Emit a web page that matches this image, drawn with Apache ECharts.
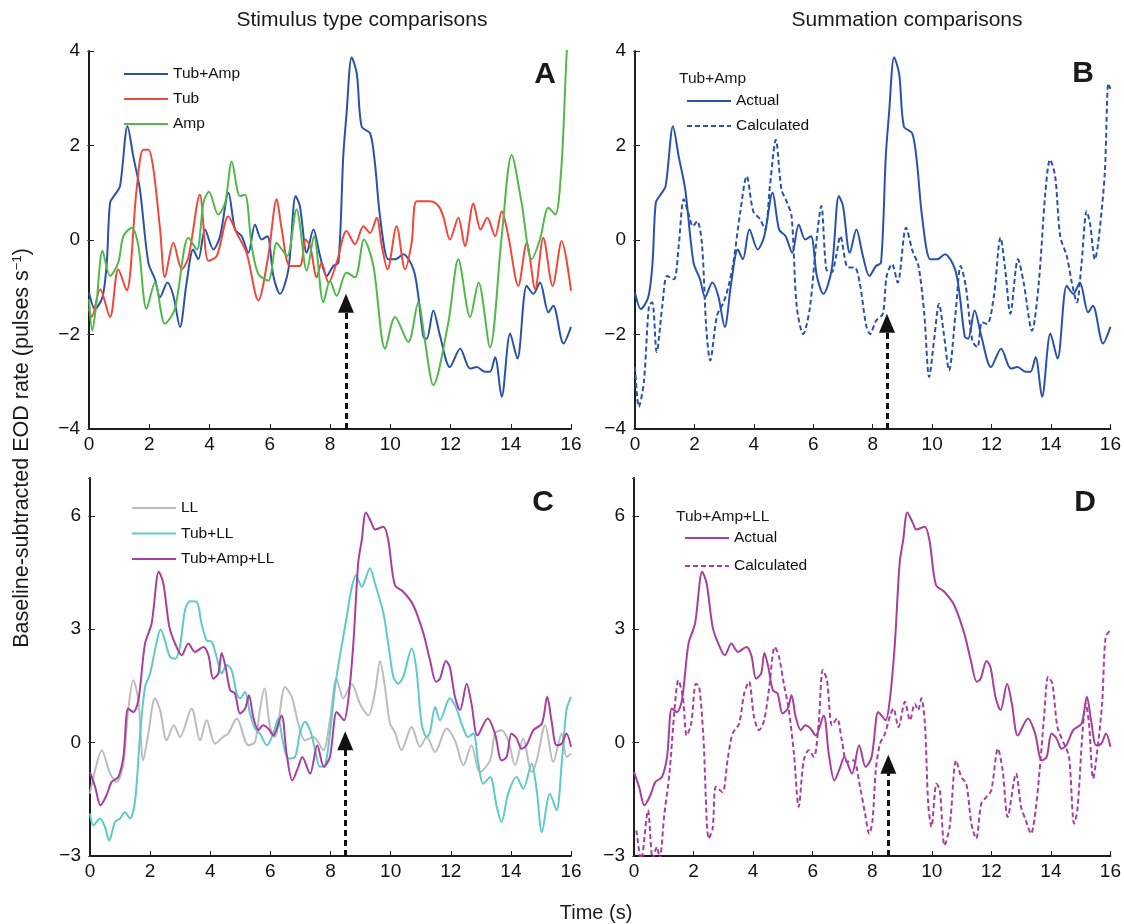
<!DOCTYPE html>
<html>
<head>
<meta charset="utf-8">
<script src="https://cdn.jsdelivr.net/npm/echarts@6/dist/echarts.min.js"></script>
<style>
  html, body { margin: 0; padding: 0; background: #fff; }
  #chart { width: 1124px; height: 924px; }
</style>
</head>
<body>
<div id="chart"></div>
<script>
// time (s), rate (pulses/s) at peaks and troughs
const tubAmp = [[0,-1.11],[0.2,-1.46],[0.45,-1.2],[0.59,-0.48],[0.7,0.79],[0.86,0.96],[1.03,1.14],[1.28,2.41],[1.47,1.77],[1.69,1.07],[1.97,-0.48],[2.19,-0.83],[2.36,-1.21],[2.6,-0.9],[2.8,-1.18],[3.02,-1.84],[3.24,-0.9],[3.46,-0.2],[3.63,-0.41],[3.85,0.22],[4.13,-0.2],[4.35,0.08],[4.63,1.0],[4.85,0.22],[5.07,0.08],[5.29,-0.27],[5.51,0.33],[5.73,0.01],[5.92,0.08],[6.12,-0.76],[6.34,-1.14],[6.62,-0.62],[6.86,0.93],[7.0,0.72],[7.23,-0.27],[7.45,0.22],[7.67,-0.34],[7.89,-0.76],[8.11,-0.55],[8.28,-0.48],[8.44,1.77],[8.55,2.68],[8.72,3.87],[8.89,3.52],[9.05,2.4],[9.33,2.26],[9.49,1.63],[9.66,0.5],[9.94,-0.41],[10.16,-0.41],[10.43,-0.3],[10.77,-0.62],[10.93,-1.18],[11.1,-2.05],[11.21,-2.09],[11.43,-1.49],[11.65,-2.02],[11.98,-2.69],[12.32,-2.3],[12.65,-2.72],[12.87,-2.69],[13.15,-2.79],[13.31,-2.79],[13.48,-2.48],[13.7,-3.32],[13.98,-1.98],[14.22,-2.51],[14.53,-0.97],[14.75,-1.14],[14.97,-0.9],[15.25,-1.53],[15.41,-1.39],[15.75,-2.19],[16,-1.84]];
const tub = [[0,-1.46],[0.09,-1.63],[0.37,-1.04],[0.7,-1.63],[0.97,-0.62],[1.25,-1.07],[1.58,1.07],[1.8,1.91],[1.97,1.91],[2.14,1.49],[2.36,0.22],[2.52,-0.79],[2.8,-0.06],[3.08,-0.62],[3.3,-0.37],[3.68,0.96],[3.96,-0.44],[4.24,-0.34],[4.63,0.5],[4.9,0.15],[5.23,-0.27],[5.62,-1.28],[5.95,-0.34],[6.23,0.86],[6.4,0.22],[6.67,-0.55],[7.0,-0.55],[7.19,0.01],[7.34,-0.13],[7.56,-0.79],[7.72,-0.48],[7.95,-0.9],[8.22,-0.48],[8.55,0.19],[8.83,-0.09],[9.11,0.29],[9.33,0.15],[9.55,0.47],[9.72,-0.13],[9.91,-0.62],[10.21,0.29],[10.49,-0.62],[10.71,-0.06],[10.88,0.82],[11.32,0.82],[11.6,0.72],[11.76,0.5],[11.98,0.01],[12.26,0.47],[12.48,-0.13],[12.76,0.77],[13.0,0.22],[13.22,0.47],[13.48,0.08],[13.7,0.61],[13.92,0.08],[14.25,-0.97],[14.53,-0.06],[14.81,-1.04],[15.08,0.05],[15.39,-0.97],[15.69,-0.02],[16,-1.07]];
const amp = [[0,-1.25],[0.11,-1.92],[0.25,-1.32],[0.45,-0.23],[0.7,-0.76],[0.97,-0.48],[1.14,0.08],[1.42,0.26],[1.64,-0.13],[1.91,-1.46],[2.19,-0.9],[2.52,-1.77],[2.85,-1.46],[3.3,0.05],[3.58,-0.2],[3.8,0.79],[3.98,1.02],[4.29,0.54],[4.52,0.79],[4.74,1.66],[5.01,0.93],[5.18,0.96],[5.4,-0.13],[5.62,-0.72],[5.95,-0.86],[6.23,-0.06],[6.4,-0.2],[6.58,-0.34],[6.89,0.65],[7.23,-0.65],[7.47,0.08],[7.78,-1.32],[8.0,-0.86],[8.22,-1.18],[8.55,-0.69],[8.83,-0.79],[9.13,0.01],[9.44,-0.55],[9.83,-2.3],[10.16,-1.63],[10.6,-2.16],[10.93,-1.32],[11.15,-2.13],[11.43,-3.07],[11.93,-1.74],[12.26,-0.41],[12.65,-1.63],[12.93,-0.9],[13.31,-2.27],[13.7,0.08],[14.03,1.8],[14.36,0.79],[14.69,-0.41],[14.97,0.01],[15.25,0.68],[15.48,0.54],[15.69,1.63],[15.86,3.98],[15.95,4.4]];
const tubAmpCalc = [[0,-2.69],[0.13,-3.53],[0.3,-3.0],[0.47,-1.39],[0.58,-1.32],[0.73,-2.37],[0.92,-1.39],[1.08,-0.76],[1.31,-0.83],[1.47,-0.13],[1.64,0.86],[1.81,0.54],[1.95,0.29],[2.09,0.4],[2.25,-0.06],[2.4,-1.88],[2.53,-2.55],[2.76,-1.6],[2.98,-1.32],[3.15,-0.97],[3.31,-0.48],[3.54,0.58],[3.76,1.35],[3.98,0.61],[4.21,0.44],[4.38,0.22],[4.54,1.14],[4.74,2.12],[4.93,1.07],[5.1,0.82],[5.27,0.5],[5.44,-1.39],[5.66,-1.99],[5.88,-1.46],[6.1,-0.06],[6.27,0.72],[6.44,-0.62],[6.61,-0.69],[6.77,-0.34],[6.91,0.08],[7.17,-0.58],[7.39,-0.58],[7.56,-0.9],[7.78,-1.81],[7.91,-1.99],[8.11,-1.71],[8.34,-1.56],[8.47,-0.76],[8.65,-0.51],[8.84,-0.9],[9.12,0.26],[9.34,-0.23],[9.54,-0.55],[9.73,-1.53],[9.9,-2.9],[10.07,-2.09],[10.23,-1.35],[10.4,-2.02],[10.57,-2.76],[10.79,-1.53],[10.96,-0.55],[11.13,-0.97],[11.35,-2.13],[11.52,-2.27],[11.68,-1.74],[11.85,-1.78],[12.08,-1.18],[12.3,0.05],[12.47,-0.69],[12.63,-1.56],[12.89,-0.41],[13.08,-0.9],[13.36,-1.92],[13.58,-0.97],[13.81,1.0],[13.97,1.7],[14.14,1.35],[14.31,0.08],[14.53,-0.34],[14.7,-0.9],[14.87,-1.32],[15.03,-0.48],[15.2,0.61],[15.31,0.36],[15.48,-0.41],[15.59,-0.06],[15.81,1.42],[15.93,3.31],[16,3.2]];
const ll = [[0,-1.35],[0.17,-0.73],[0.39,-0.2],[0.67,-0.82],[0.89,-1.04],[1.11,-0.56],[1.27,0.86],[1.44,1.65],[1.61,1.12],[1.77,-0.47],[1.94,0.24],[2.16,1.17],[2.33,0.86],[2.55,0.06],[2.79,0.46],[2.99,0.15],[3.38,0.9],[3.66,0.06],[3.88,0.59],[4.16,-0.03],[4.43,0.15],[4.6,0.24],[4.88,0.64],[5.27,-0.07],[5.49,0.02],[5.65,0.86],[5.8,1.43],[5.99,0.41],[6.15,0.15],[6.49,1.47],[6.71,1.21],[6.93,0.5],[7.15,0.06],[7.43,0.15],[7.76,-0.2],[7.98,0.59],[8.2,1.69],[8.43,1.17],[8.7,1.56],[8.98,1.03],[9.26,0.72],[9.48,1.34],[9.65,2.16],[9.81,1.47],[9.98,0.5],[10.14,0.28],[10.36,-0.2],[10.7,0.41],[10.98,-0.11],[11.2,0.15],[11.48,-0.25],[11.86,0.37],[12.14,0.06],[12.42,-0.6],[12.69,-0.07],[12.97,-0.78],[13.31,-0.47],[13.47,0.24],[13.69,0.33],[13.91,0.06],[14.14,-0.6],[14.41,0.11],[14.69,-0.78],[14.86,-0.47],[15.14,0.46],[15.41,-0.51],[15.69,0.24],[15.85,-0.38],[16,-0.29]];
const tubLL = [[0,-1.88],[0.11,-2.19],[0.33,-2.01],[0.5,-2.24],[0.64,-2.59],[0.83,-2.1],[1.0,-2.01],[1.16,-1.84],[1.33,-2.01],[1.5,-1.53],[1.66,0.15],[1.83,1.47],[2.0,1.83],[2.16,2.44],[2.35,2.99],[2.49,2.71],[2.66,2.27],[2.83,2.22],[2.99,2.53],[3.16,3.5],[3.33,3.74],[3.55,3.72],[3.71,3.15],[3.88,2.71],[4.05,2.67],[4.21,2.27],[4.38,1.83],[4.55,2.05],[4.71,1.92],[4.88,1.3],[4.99,1.17],[5.16,1.34],[5.32,0.77],[5.49,0.37],[5.65,0.24],[5.88,-0.07],[6.1,0.24],[6.26,0.64],[6.43,-0.03],[6.6,-0.42],[6.82,-0.38],[6.98,0.24],[7.15,0.55],[7.32,0.33],[7.48,-0.16],[7.65,-0.64],[7.82,-0.6],[7.98,0.24],[8.15,1.47],[8.31,2.27],[8.54,3.33],[8.7,4.08],[8.85,4.43],[9.04,4.12],[9.15,4.3],[9.31,4.61],[9.48,4.21],[9.76,3.42],[9.92,2.62],[10.09,1.74],[10.25,1.56],[10.42,1.74],[10.7,2.49],[10.86,1.92],[11.03,0.5],[11.2,0.15],[11.31,0.28],[11.48,0.94],[11.64,0.59],[11.97,1.17],[12.19,0.9],[12.36,0.5],[12.58,0.15],[12.75,0.24],[12.92,-0.56],[13.08,-1.09],[13.31,-0.91],[13.53,-1.7],[13.69,-2.1],[13.91,-1.35],[14.19,-0.91],[14.41,-1.22],[14.69,-0.56],[14.86,-1.27],[15.03,-2.37],[15.3,-1.35],[15.52,-1.79],[15.69,-0.56],[15.85,0.86],[16,1.21]];
const tubAmpLL = [[0,-0.78],[0.17,-1.17],[0.35,-1.66],[0.55,-1.39],[0.72,-1.04],[0.94,-0.91],[1.11,-0.38],[1.27,0.9],[1.44,0.81],[1.61,1.12],[1.83,2.62],[2.05,3.15],[2.29,4.52],[2.44,4.21],[2.64,3.06],[2.83,2.62],[3.05,2.31],[3.27,2.62],[3.49,2.4],[3.77,2.53],[3.94,2.31],[4.1,1.69],[4.27,1.83],[4.38,2.37],[4.51,2.0],[4.66,1.39],[4.82,1.3],[4.99,0.77],[5.16,0.9],[5.29,1.25],[5.43,0.68],[5.6,0.33],[5.76,0.46],[5.93,0.37],[6.1,0.19],[6.37,0.72],[6.54,-0.29],[6.73,-1.0],[6.93,-0.64],[7.06,-0.38],[7.32,-0.82],[7.56,-0.07],[7.78,-0.64],[7.98,-0.38],[8.2,0.81],[8.31,0.72],[8.45,0.59],[8.59,1.12],[8.76,2.62],[8.92,4.74],[9.04,5.36],[9.18,6.09],[9.37,5.8],[9.48,5.64],[9.76,5.71],[9.92,5.36],[10.14,4.17],[10.42,3.99],[10.75,3.64],[11.09,2.89],[11.31,2.18],[11.51,1.61],[11.64,1.69],[11.84,2.16],[11.97,2.0],[12.14,1.21],[12.31,0.86],[12.53,1.56],[12.69,1.03],[12.89,0.19],[13.23,0.64],[13.47,0.24],[13.69,-0.47],[13.86,-0.38],[14.02,0.24],[14.19,0.11],[14.36,-0.16],[14.52,-0.07],[14.75,0.33],[15.03,0.5],[15.21,1.21],[15.35,0.59],[15.52,-0.07],[15.69,-0.03],[15.85,0.24],[16,-0.11]];
const tubAmpLLCalc = [[0.08,-2.32],[0.24,-3.1],[0.47,-1.79],[0.63,-3.07],[0.77,-2.76],[0.86,-3.07],[1.02,-1.88],[1.19,-0.82],[1.36,0.86],[1.49,1.65],[1.64,1.21],[1.77,0.19],[1.92,0.5],[2.08,1.56],[2.19,1.47],[2.33,0.15],[2.51,-2.54],[2.64,-2.28],[2.75,-1.17],[2.97,-1.31],[3.14,-0.47],[3.31,0.24],[3.53,0.5],[3.7,1.3],[3.86,1.61],[4.03,0.68],[4.2,0.33],[4.37,0.59],[4.53,1.39],[4.73,2.53],[4.87,2.27],[5.03,1.56],[5.2,0.86],[5.37,-0.29],[5.53,-1.7],[5.7,-0.47],[5.87,-0.2],[6.04,-0.38],[6.2,0.5],[6.34,1.92],[6.48,1.65],[6.65,0.46],[6.82,0.64],[6.98,0.06],[7.15,-0.51],[7.37,-0.47],[7.59,-1.17],[7.76,-1.88],[7.9,-2.41],[8.01,-2.06],[8.12,-0.73],[8.26,-0.03],[8.43,0.24],[8.6,0.72],[8.71,0.9],[8.88,0.41],[9.1,1.08],[9.27,0.59],[9.43,1.03],[9.54,0.86],[9.65,1.17],[9.77,0.5],[9.88,-1.62],[9.99,-2.23],[10.16,-1.09],[10.27,-1.26],[10.43,-2.72],[10.6,-2.23],[10.82,-0.47],[10.99,-0.91],[11.16,-1.09],[11.33,-2.14],[11.49,-2.54],[11.66,-1.62],[11.83,-1.44],[12.0,-1.26],[12.22,-0.16],[12.38,-0.73],[12.55,-1.97],[12.83,-0.82],[13.0,-1.7],[13.16,-2.06],[13.33,-2.41],[13.5,-1.7],[13.66,-0.38],[13.78,0.77],[13.91,1.74],[14.05,1.56],[14.22,0.41],[14.44,-0.03],[14.61,-0.38],[14.78,-2.14],[14.89,-1.79],[15.06,0.24],[15.17,1.03],[15.28,0.5],[15.42,-0.95],[15.56,-0.2],[15.72,1.03],[15.84,2.8],[16,2.97]];

// stimulus onset arrows: [time, tip value]
const arrowA = [8.53, -1.14];
const arrowB = [8.48, -1.56];
const arrowC = [8.49, 0.30];
const arrowD = [8.54, -0.32];

const xTicks = [0, 16, 2];
const yTicksTop = [-4, 4, 2];
const yTicksBottom = [-3, 7, 3];

const BLUE = '#2a52ac', RED = '#f0483a', GREEN = '#52b84a';
const GRAY = '#bcbcbc', CYAN = '#5ecaca', MAGENTA = '#a83f9e';
const FONT = '"Liberation Sans", Arial, Helvetica, sans-serif';
const INK = '#1e1e1e';

const chart = echarts.init(document.getElementById('chart'));

const grids = [
  { left: 89, top: 51, width: 482, height: 378 },
  { left: 635, top: 51, width: 477, height: 378 },
  { left: 90, top: 478, width: 481, height: 378 },
  { left: 634, top: 478, width: 478, height: 378 }
];

function minus(v) { return String(v).replace('-', '\u2212'); }

const xAxes = grids.map((g, i) => ({
  type: 'value', gridIndex: i, min: xTicks[0], max: xTicks[1], interval: xTicks[2],
  axisLine: { onZero: false, lineStyle: { color: INK, width: 2 } },
  axisTick: { inside: true, length: 5, lineStyle: { color: INK, width: 1 } },
  axisLabel: { color: '#111', fontFamily: FONT, fontSize: 19, margin: 6 },
  splitLine: { show: false }
}));

const yAxes = [];
grids.forEach((g, i) => {
  const t = i < 2 ? yTicksTop : yTicksBottom;
  yAxes.push({
    type: 'value', gridIndex: i, min: t[0], max: t[1], interval: t[2],
    axisLine: { show: true, onZero: false, lineStyle: { color: INK, width: 2 } },
    axisTick: { inside: true, length: 5, lineStyle: { color: INK, width: 1 } },
    axisLabel: { color: '#111', fontFamily: FONT, fontSize: 19, margin: 9, formatter: minus, showMaxLabel: i < 2 },
    splitLine: { show: false }
  });
  yAxes.push({
    type: 'value', gridIndex: i, position: 'right', min: t[0], max: t[1], interval: t[2],
    axisLine: { show: false }, axisLabel: { show: false }, splitLine: { show: false },
    axisTick: { inside: true, length: 2, lineStyle: { color: '#555', width: 1 } }
  });
});

function arrow(a, base, unit) {
  return {
    silent: true, animation: false,
    symbol: ['none', 'triangle'], symbolSize: [16, 19],
    label: { show: false },
    lineStyle: { color: '#111', width: 3, type: [6, 4], opacity: 1 },
    emphasis: { disabled: true },
    data: [[{ coord: [a[0], base] }, { coord: [a[0], a[1] - unit] }]]
  };
}

function line(name, data, color, grid, dashed, mark) {
  const s = {
    name: name, type: 'line', xAxisIndex: grid, yAxisIndex: grid * 2,
    data: data, smooth: 0.3, symbol: 'none', clip: true,
    lineStyle: { color: color, width: 2, type: dashed ? [5, 3] : 'solid' },
    itemStyle: { color: color },
    emphasis: { disabled: true }, animation: false
  };
  if (mark) s.markLine = mark;
  return s;
}

const series = [
  line('Tub+Amp', tubAmp, BLUE, 0),
  line('Tub', tub, RED, 0),
  line('Amp', amp, GREEN, 0, false, arrow(arrowA, -4, 0.2)),
  line('B:Calculated', tubAmpCalc, BLUE, 1, true),
  line('B:Actual', tubAmp, BLUE, 1, false, arrow(arrowB, -4, 0.2)),
  line('LL', ll, GRAY, 2),
  line('Tub+LL', tubLL, CYAN, 2),
  line('Tub+Amp+LL', tubAmpLL, MAGENTA, 2, false, arrow(arrowC, -3, 0.25)),
  line('D:Calculated', tubAmpLLCalc, MAGENTA, 3, true),
  line('D:Actual', tubAmpLL, MAGENTA, 3, false, arrow(arrowD, -3, 0.25))
];

function legend(names, left, top, gap) {
  return {
    data: names, left: left, top: top, orient: 'vertical',
    itemWidth: 44, itemHeight: 14, itemGap: gap, selectedMode: false,
    itemStyle: { color: 'rgba(0,0,0,0)', borderWidth: 0 },
    textStyle: { fontFamily: FONT, fontSize: 15.5, color: '#111' },
    formatter: n => n.replace(/^[BD]:/, '')
  };
}

function label(str, x, y, size, extra) {
  return {
    type: 'text', x: x, y: y, silent: true,
    style: Object.assign({ text: str, fontFamily: FONT, fontSize: size, fill: '#1a1a1a', align: 'center', verticalAlign: 'middle' }, extra || {})
  };
}

chart.setOption({
  backgroundColor: '#fff',
  animation: false,
  grid: grids,
  xAxis: xAxes,
  yAxis: yAxes,
  legend: [
    legend(['Tub+Amp', 'Tub', 'Amp'], 118, 61, 9),
    legend(['B:Actual', 'B:Calculated'], 681, 88, 9),
    legend(['LL', 'Tub+LL', 'Tub+Amp+LL'], 126, 495, 9.5),
    legend(['D:Actual', 'D:Calculated'], 679, 525, 12)
  ],
  series: series,
  graphic: [
    label('Stimulus type comparisons', 362, 20, 21),
    label('Summation comparisons', 907, 20, 21),
    label('Time (s)', 596, 913, 20),
    { type: 'text', x: 22, y: 448, rotation: Math.PI / 2, silent: true,
      style: { rich: { b: { fontFamily: FONT, fontSize: 21.5, fill: '#1a1a1a' }, sup: { fontFamily: FONT, fontSize: 13, fill: '#1a1a1a', verticalAlign: 'top', padding: [0, 0, 8, 0] } },
        text: '{b|Baseline-subtracted EOD rate (pulses s}{sup|\u22121}{b|)}', align: 'center', verticalAlign: 'middle' } },
    label('A', 545, 75, 30, { fontWeight: 'bold' }),
    label('B', 1083, 74, 30, { fontWeight: 'bold' }),
    label('C', 543, 503, 30, { fontWeight: 'bold' }),
    label('D', 1085, 503, 30, { fontWeight: 'bold' }),
    label('Tub+Amp', 679, 79, 15.5, { align: 'left' }),
    label('Tub+Amp+LL', 676, 517, 15.5, { align: 'left' })
  ]
});
</script>
</body>
</html>
